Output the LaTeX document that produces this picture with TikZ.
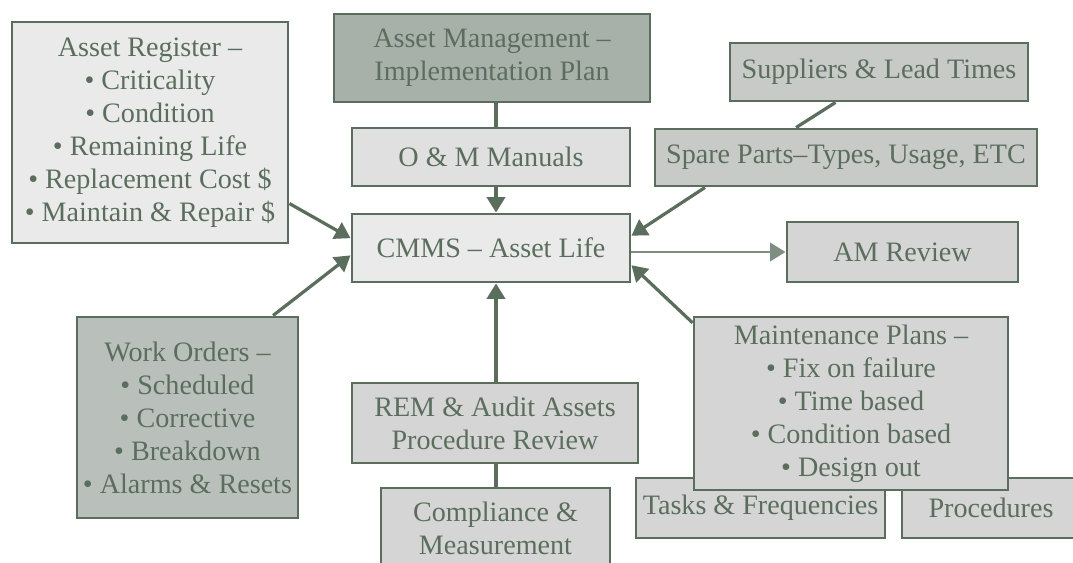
\documentclass[tikz,border=0pt]{standalone}
\usepackage{fontspec}
\setmainfont{Liberation Serif}
\usepackage{tikz}
\usetikzlibrary{arrows.meta}
\usepackage{xcolor}

\definecolor{edge}{HTML}{5B6E5E}
\definecolor{softedge}{HTML}{7F8E81}
\definecolor{paleA}{HTML}{E9EAE9}
\definecolor{paleB}{HTML}{DFE0DF}
\definecolor{midA}{HTML}{D4D5D4}
\definecolor{midB}{HTML}{C8CAC8}
\definecolor{darkA}{HTML}{B9BFBB}
\definecolor{darkB}{HTML}{A8B0AA}

\tikzset{
    box/.style = {draw = edge, line width = 2.1pt, text = edge, align = center,
        inner sep = 0pt, font = \fontsize{20}{23.5}\selectfont},
    link/.style = {draw = edge, line width = 2.3pt},
    arr/.style = {link, -{Triangle[length = 11pt, width = 13pt]}},
}

\begin{document}
\begin{tikzpicture}[x = 0.025cm, y = -0.025cm]
    \clip (0,0) rectangle (1073,563);
    \fill[white] (0,0) rectangle (1073,563);
    \coordinate (spine) at (496,0);

    \node[box, fill = paleA, minimum width = 276*0.025cm, minimum height = 221*0.025cm] (reg) at (150,132.5)
        {Asset Register \textendash\\ \textbullet\ Criticality\\ \textbullet\ Condition\\ \textbullet\ Remaining Life\\ \textbullet\ Replacement Cost \$\\ \textbullet\ Maintain \& Repair \$};
    \node[box, fill = darkB, minimum width = 316*0.025cm, minimum height = 88*0.025cm] (amip) at (492,58)
        {Asset Management \textendash\\ Implementation Plan};
    \node[box, fill = paleB, minimum width = 278*0.025cm, minimum height = 58*0.025cm] (om) at (491,157)
        {O \& M Manuals};
    \node[box, fill = paleA, minimum width = 278*0.025cm, minimum height = 68*0.025cm] (cmms) at (491,248)
        {CMMS \textendash\ Asset Life};
    \node[box, fill = midB, minimum width = 298*0.025cm, minimum height = 58*0.025cm] (sup) at (879,72)
        {Suppliers \& Lead Times};
    \node[box, fill = midB, minimum width = 382*0.025cm, minimum height = 57*0.025cm] (spare) at (846,157.5)
        {Spare Parts\textendash Types, Usage, ETC};
    \node[box, fill = midA, minimum width = 231*0.025cm, minimum height = 60*0.025cm] (amr) at (902.5,252)
        {AM Review};
    \node[box, fill = darkA, minimum width = 221*0.025cm, minimum height = 201*0.025cm] (wo) at (187.5,417.5)
        {Work Orders \textendash\\ \textbullet\ Scheduled\\ \textbullet\ Corrective\\ \textbullet\ Breakdown\\ \textbullet\ Alarms \& Resets};
    \node[box, fill = midA, minimum width = 286*0.025cm, minimum height = 80*0.025cm] (rem) at (495,423)
        {REM \& Audit Assets\\ Procedure Review};
    \node[box, fill = midA, minimum width = 229*0.025cm, minimum height = 80*0.025cm] (comp) at (495.5,528)
        {Compliance \&\\ Measurement};
    \node[box, fill = midA, minimum width = 249*0.025cm, minimum height = 60*0.025cm] (tasks) at (760.5,508)
        {Tasks \& Frequencies};
    \node[box, fill = midA, minimum width = 178*0.025cm, minimum height = 60*0.025cm] (proc) at (991,508)
        {Procedures};
    \node[box, fill = midA, minimum width = 314*0.025cm, minimum height = 173*0.025cm] (maint) at (851,403.5)
        {Maintenance Plans \textendash\\ \textbullet\ Fix on failure\\ \textbullet\ Time based\\ \textbullet\ Condition based\\ \textbullet\ Design out};

    \draw[link] (amip.south -| spine) -- (om.north -| spine);
    \draw[arr] (om.south -| spine) -- (cmms.north -| spine);
    \draw[arr] (rem.north -| spine) -- (cmms.south -| spine);
    \draw[link] (rem.south -| spine) -- (comp.north -| spine);
    \draw[link] (sup.-145.4) -- (spare.149.8);
    \draw[arr] (spare.192) -- (cmms.5.3);
    \draw[arr] (reg.-27.7) -- (cmms.176.7);
    \draw[arr] (wo.50) -- (cmms.-177.5);
    \draw[arr] (maint.153.4) -- (cmms.-7.7);
    \draw[arr, draw = softedge, line width = 2pt] (cmms.east |- amr.west) -- (amr.west);
\end{tikzpicture}
\end{document}
